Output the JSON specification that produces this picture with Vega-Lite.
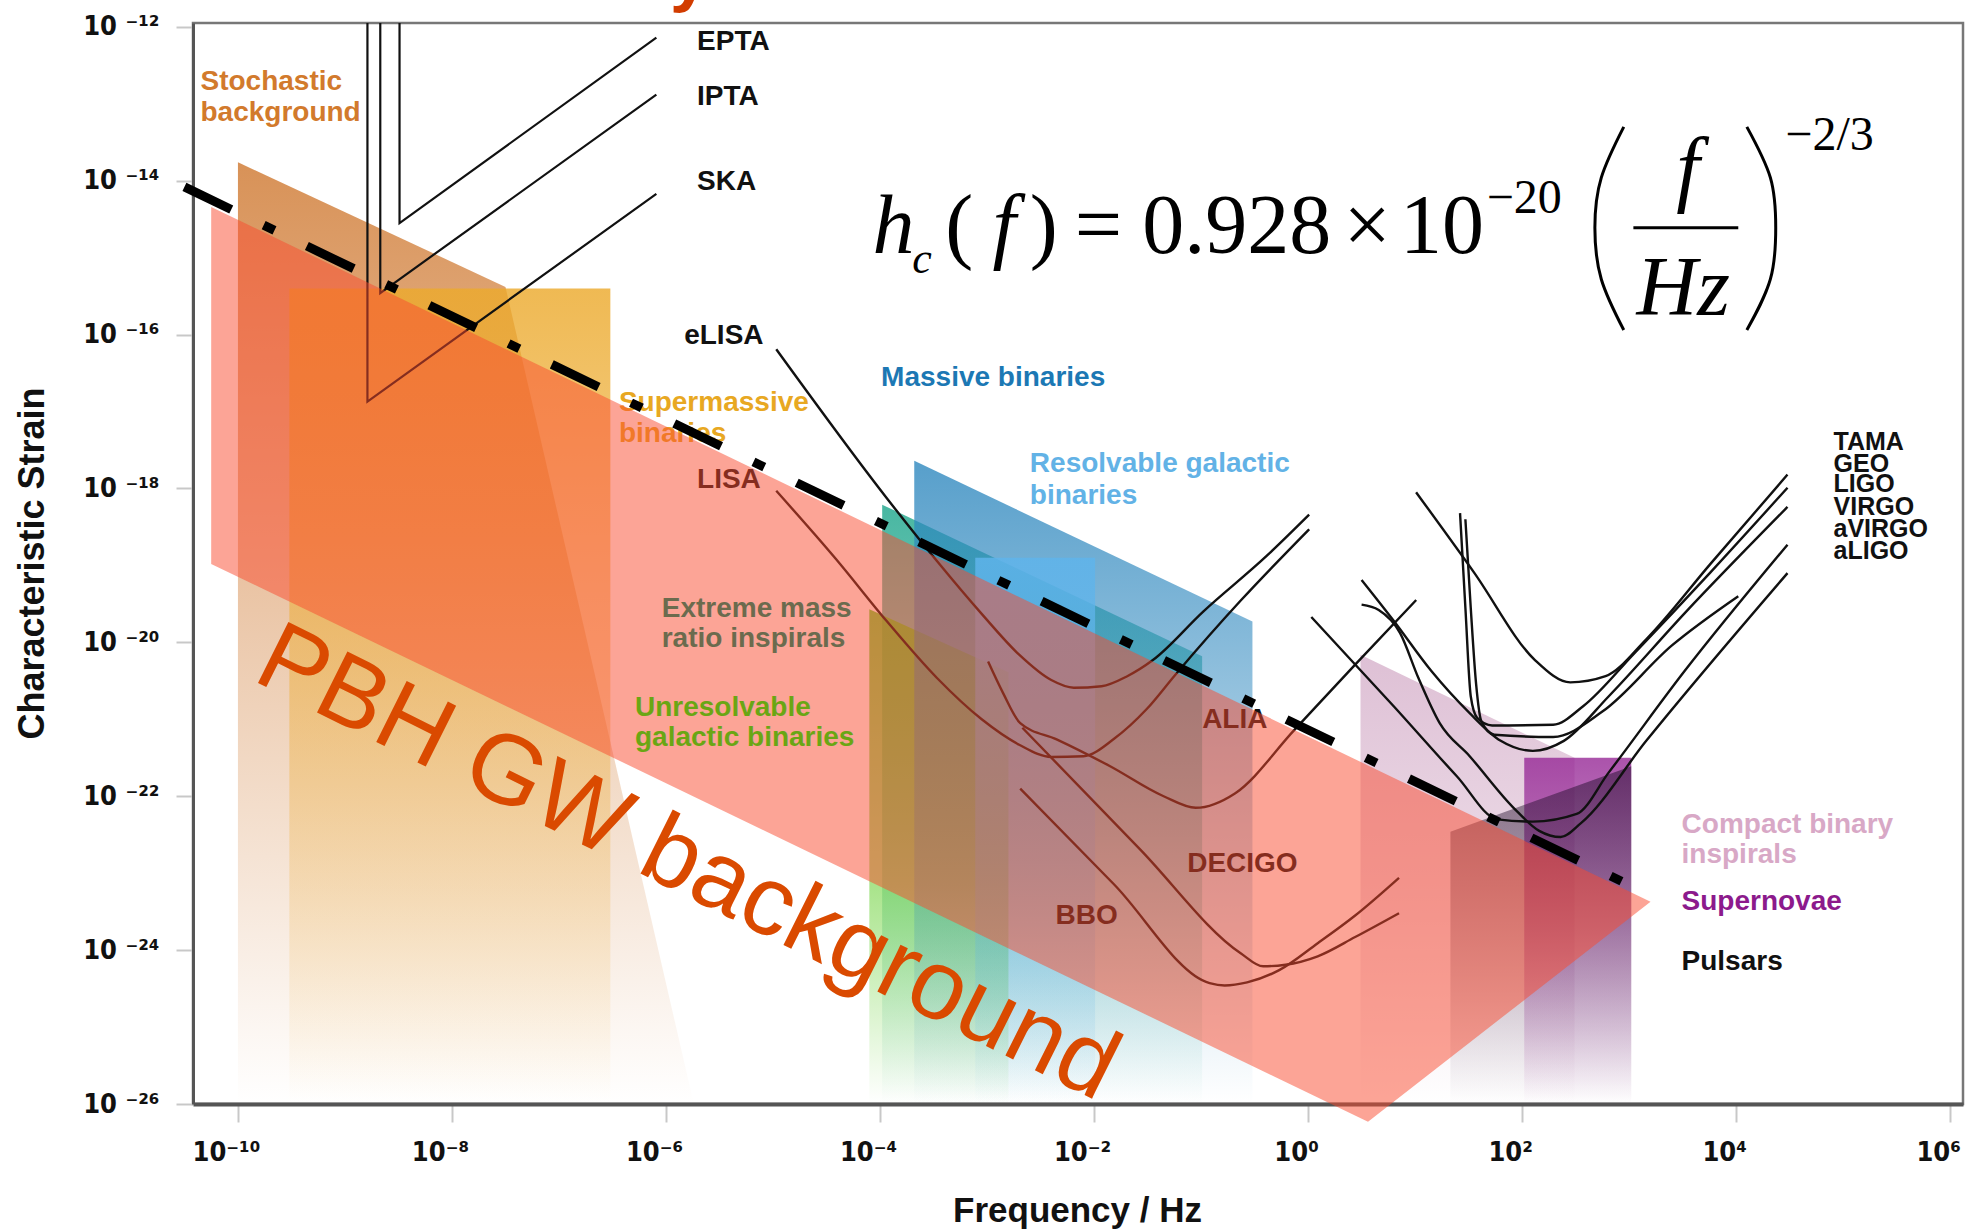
{
"$schema": "https://vega.github.io/schema/vega-lite/v6.json",
"width": 1770,
"height": 1081,
"autosize": {"type": "none"},
"padding": {"left": 193, "top": 23, "right": 23, "bottom": 125},
"background": "white",
"config": {"view": {"stroke": "#777777", "strokeWidth": 2.5}},
"datasets": {
"regions": [
{"region":"Stochastic background","f":1e-10,"h":1.738e-14,"h2":1e-26},
{"region":"Stochastic background","f":3.162e-8,"h":4.169e-16,"h2":1e-26},
{"region":"Stochastic background","f":1.82e-6,"h":1e-26,"h2":1e-26},
{"region":"Supermassive binaries","f":3.02e-10,"h":3.981e-16,"h2":1e-26},
{"region":"Supermassive binaries","f":3.02e-7,"h":3.981e-16,"h2":1e-26},
{"region":"Extreme mass ratio inspirals","f":1.047e-4,"h":6.166e-19,"h2":1e-26},
{"region":"Extreme mass ratio inspirals","f":0.1023,"h":6.607e-21,"h2":1e-26},
{"region":"Unresolvable galactic binaries","f":7.943e-5,"h":2.692e-20,"h2":1e-26},
{"region":"Unresolvable galactic binaries","f":1.585e-3,"h":4.074e-21,"h2":1e-26},
{"region":"Massive binaries","f":2.089e-4,"h":2.291e-18,"h2":1e-26},
{"region":"Massive binaries","f":0.302,"h":1.862e-20,"h2":1e-26},
{"region":"Resolvable galactic binaries","f":7.762e-4,"h":1.259e-19,"h2":1e-26},
{"region":"Resolvable galactic binaries","f":1.023e-2,"h":1.259e-19,"h2":1e-26},
{"region":"Compact binary inspirals","f":3.09,"h":6.918e-21,"h2":1e-26},
{"region":"Compact binary inspirals","f":309,"h":3.162e-22,"h2":1e-26},
{"region":"Supernovae","f":104.7,"h":3.162e-22,"h2":1e-26},
{"region":"Supernovae","f":1047,"h":3.162e-22,"h2":1e-26},
{"region":"Pulsars","f":21.38,"h":3.467e-23,"h2":1e-26},
{"region":"Pulsars","f":1047,"h":2.455e-22,"h2":1e-26},
{"region":"PBH GW background","f":5.623e-11,"h":4.571e-15,"h2":1.047e-19},
{"region":"PBH GW background","f":3.631,"h":2.512e-22,"h2":5.888e-27},
{"region":"PBH GW background","f":1585,"h":4.266e-24,"h2":4.266e-24}
],
"curves": [
{"name":"EPTA","i":0,"f":3.236e-9,"h":1.122e-12},
{"name":"EPTA","i":1,"f":3.236e-9,"h":2.818e-15},
{"name":"EPTA","i":2,"f":8.128e-7,"h":7.244e-13},
{"name":"IPTA","i":0,"f":2.138e-9,"h":1.122e-12},
{"name":"IPTA","i":1,"f":2.138e-9,"h":3.467e-16},
{"name":"IPTA","i":2,"f":8.128e-7,"h":1.318e-13},
{"name":"SKA","i":0,"f":1.622e-9,"h":1.122e-12},
{"name":"SKA","i":1,"f":1.622e-9,"h":1.349e-17},
{"name":"SKA","i":2,"f":8.128e-7,"h":6.761e-15},
{"name":"eLISA","i":0,"f":1.072e-5,"h":6.457e-17},
{"name":"eLISA","i":1,"f":1.148e-4,"h":7.586e-19},
{"name":"eLISA","i":2,"f":3.388e-4,"h":1.148e-19},
{"name":"eLISA","i":3,"f":8.913e-4,"h":2.344e-20},
{"name":"eLISA","i":4,"f":1.995e-3,"h":6.918e-21},
{"name":"eLISA","i":5,"f":3.981e-3,"h":3.236e-21},
{"name":"eLISA","i":6,"f":6.457e-3,"h":2.57e-21},
{"name":"eLISA","i":7,"f":1.175e-2,"h":2.692e-21},
{"name":"eLISA","i":8,"f":2.042e-2,"h":3.631e-21},
{"name":"eLISA","i":9,"f":3.548e-2,"h":5.888e-21},
{"name":"eLISA","i":10,"f":0.1047,"h":2.512e-20},
{"name":"eLISA","i":11,"f":0.4074,"h":1.318e-19},
{"name":"eLISA","i":12,"f":1.023,"h":4.571e-19},
{"name":"LISA","i":0,"f":1.072e-5,"h":9.333e-19},
{"name":"LISA","i":1,"f":3.89e-5,"h":1.202e-19},
{"name":"LISA","i":2,"f":1.148e-4,"h":1.905e-20},
{"name":"LISA","i":3,"f":3.388e-4,"h":3.467e-21},
{"name":"LISA","i":4,"f":8.913e-4,"h":1e-21},
{"name":"LISA","i":5,"f":1.995e-3,"h":4.677e-22},
{"name":"LISA","i":6,"f":3.981e-3,"h":3.236e-22},
{"name":"LISA","i":7,"f":7.943e-3,"h":3.311e-22},
{"name":"LISA","i":8,"f":1.549e-2,"h":5.623e-22},
{"name":"LISA","i":9,"f":3.09e-2,"h":1.349e-21},
{"name":"LISA","i":10,"f":5.754e-2,"h":3.802e-21},
{"name":"LISA","i":11,"f":0.237,"h":3.548e-20},
{"name":"LISA","i":12,"f":1.023,"h":2.951e-19},
{"name":"ALIA","i":0,"f":1.023e-3,"h":5.623e-21},
{"name":"ALIA","i":1,"f":1.413e-3,"h":2.188e-21},
{"name":"ALIA","i":2,"f":2.042e-3,"h":8.913e-22},
{"name":"ALIA","i":3,"f":4.467e-3,"h":5.495e-22},
{"name":"ALIA","i":4,"f":1.413e-2,"h":2.455e-22},
{"name":"ALIA","i":5,"f":4.467e-2,"h":1e-22},
{"name":"ALIA","i":6,"f":8.913e-2,"h":7.079e-23},
{"name":"ALIA","i":7,"f":0.2089,"h":1.096e-22},
{"name":"ALIA","i":8,"f":0.7413,"h":7.244e-22},
{"name":"ALIA","i":9,"f":2.754,"h":5.129e-21},
{"name":"ALIA","i":10,"f":10.23,"h":3.548e-20},
{"name":"DECIGO","i":0,"f":2.138e-3,"h":7.762e-22},
{"name":"DECIGO","i":1,"f":2.692e-2,"h":2.042e-23},
{"name":"DECIGO","i":2,"f":0.2344,"h":9.12e-25},
{"name":"DECIGO","i":3,"f":0.3802,"h":6.166e-25},
{"name":"DECIGO","i":4,"f":0.6166,"h":6.457e-25},
{"name":"DECIGO","i":5,"f":1.23,"h":8.318e-25},
{"name":"DECIGO","i":6,"f":2.754,"h":1.479e-24},
{"name":"DECIGO","i":7,"f":7.079,"h":3.02e-24},
{"name":"BBO","i":0,"f":2.042e-3,"h":1.259e-22},
{"name":"BBO","i":1,"f":1.549e-2,"h":7.079e-24},
{"name":"BBO","i":2,"f":0.1202,"h":3.715e-25},
{"name":"BBO","i":3,"f":0.166,"h":3.467e-25},
{"name":"BBO","i":4,"f":0.2692,"h":3.802e-25},
{"name":"BBO","i":5,"f":0.537,"h":5.495e-25},
{"name":"BBO","i":6,"f":1.23,"h":1.23e-24},
{"name":"BBO","i":7,"f":2.754,"h":2.818e-24},
{"name":"BBO","i":8,"f":7.079,"h":8.71e-24},
{"name":"TAMA","i":0,"f":10.23,"h":8.913e-19},
{"name":"TAMA","i":1,"f":35.48,"h":8.128e-20},
{"name":"TAMA","i":2,"f":131.8,"h":5.888e-21},
{"name":"TAMA","i":3,"f":281.8,"h":3.02e-21},
{"name":"TAMA","i":4,"f":602.6,"h":3.631e-21},
{"name":"TAMA","i":5,"f":1445,"h":1.096e-20},
{"name":"TAMA","i":6,"f":5754,"h":1.047e-19},
{"name":"TAMA","i":7,"f":30200,"h":1.514e-18},
{"name":"GEO","i":0,"f":26.3,"h":4.786e-19},
{"name":"GEO","i":1,"f":29.51,"h":2.818e-20},
{"name":"GEO","i":2,"f":33.11,"h":1.995e-21},
{"name":"GEO","i":3,"f":38.02,"h":1.047e-21},
{"name":"GEO","i":4,"f":52.48,"h":8.318e-22},
{"name":"GEO","i":5,"f":195,"h":8.511e-22},
{"name":"GEO","i":6,"f":371.5,"h":1.479e-21},
{"name":"GEO","i":7,"f":1122,"h":7.244e-21},
{"name":"GEO","i":8,"f":5754,"h":8.128e-20},
{"name":"GEO","i":9,"f":30200,"h":1.023e-18},
{"name":"LIGO","i":0,"f":3.162,"h":6.457e-20},
{"name":"LIGO","i":1,"f":6.31,"h":1.905e-20},
{"name":"LIGO","i":2,"f":14.13,"h":4.266e-21},
{"name":"LIGO","i":3,"f":32.36,"h":1.202e-21},
{"name":"LIGO","i":4,"f":63.1,"h":5.248e-22},
{"name":"LIGO","i":5,"f":125.9,"h":3.89e-22},
{"name":"LIGO","i":6,"f":245.5,"h":5.248e-22},
{"name":"LIGO","i":7,"f":645.7,"h":1.995e-21},
{"name":"LIGO","i":8,"f":3311,"h":2.399e-20},
{"name":"LIGO","i":9,"f":30200,"h":5.754e-19},
{"name":"VIRGO","i":0,"f":1.072,"h":2.138e-20},
{"name":"VIRGO","i":1,"f":6.31,"h":1.479e-21},
{"name":"VIRGO","i":2,"f":24.55,"h":1.82e-22},
{"name":"VIRGO","i":3,"f":58.88,"h":5.012e-23},
{"name":"VIRGO","i":4,"f":125.9,"h":4.677e-23},
{"name":"VIRGO","i":5,"f":323.6,"h":5.888e-23},
{"name":"VIRGO","i":6,"f":645.7,"h":2.042e-22},
{"name":"VIRGO","i":7,"f":3311,"h":4.266e-21},
{"name":"VIRGO","i":8,"f":30200,"h":1.862e-19},
{"name":"aVIRGO","i":0,"f":3.162,"h":3.09e-20},
{"name":"aVIRGO","i":1,"f":4.571,"h":2.63e-20},
{"name":"aVIRGO","i":2,"f":7.244,"h":1.318e-20},
{"name":"aVIRGO","i":3,"f":10.72,"h":3.467e-21},
{"name":"aVIRGO","i":4,"f":16.98,"h":8.913e-22},
{"name":"aVIRGO","i":5,"f":32.36,"h":3.311e-22},
{"name":"aVIRGO","i":6,"f":83.18,"h":7.079e-23},
{"name":"aVIRGO","i":7,"f":144.5,"h":3.548e-23},
{"name":"aVIRGO","i":8,"f":229.1,"h":2.951e-23},
{"name":"aVIRGO","i":9,"f":354.8,"h":4.467e-23},
{"name":"aVIRGO","i":10,"f":1445,"h":5.248e-22},
{"name":"aVIRGO","i":11,"f":30200,"h":7.943e-20},
{"name":"aLIGO","i":0,"f":29.51,"h":3.981e-19},
{"name":"aLIGO","i":1,"f":33.11,"h":2.818e-20},
{"name":"aLIGO","i":2,"f":37.15,"h":2.884e-21},
{"name":"aLIGO","i":3,"f":41.69,"h":9.333e-22},
{"name":"aLIGO","i":4,"f":54.95,"h":6.31e-22},
{"name":"aLIGO","i":5,"f":195,"h":5.888e-22},
{"name":"aLIGO","i":6,"f":562.3,"h":1.259e-21},
{"name":"aLIGO","i":7,"f":2512,"h":9.12e-21},
{"name":"aLIGO","i":8,"f":10470,"h":3.981e-20}
],
"fit": [
{"i":0,"f":3.162e-11,"h":8.318e-15},
{"i":1,"f":955,"h":7.244e-24}
],
"labels": [
{"cat":"pta","text":"EPTA","f":1.95e-6,"h":5.012e-13},
{"cat":"pta","text":"IPTA","f":1.95e-6,"h":9.772e-14},
{"cat":"pta","text":"SKA","f":1.95e-6,"h":7.586e-15},
{"cat":"stochastic","text":"Stochastic","f":4.467e-11,"h":1.514e-13},
{"cat":"stochastic","text":"background","f":4.467e-11,"h":6.026e-14},
{"cat":"supermassive","text":"Supermassive","f":3.631e-7,"h":1.023e-17},
{"cat":"supermassive","text":"binaries","f":3.631e-7,"h":4.074e-18},
{"cat":"space","text":"eLISA","f":1.479e-6,"h":7.586e-17},
{"cat":"massive","text":"Massive binaries","f":1.023e-4,"h":2.138e-17},
{"cat":"resolvable","text":"Resolvable galactic","f":2.512e-3,"h":1.622e-18},
{"cat":"resolvable","text":"binaries","f":2.512e-3,"h":6.31e-19},
{"cat":"space","text":"LISA","f":1.95e-6,"h":1.023e-18},
{"cat":"emri","text":"Extreme mass","f":9.12e-7,"h":2.138e-20},
{"cat":"emri","text":"ratio inspirals","f":9.12e-7,"h":8.71e-21},
{"cat":"unresolvable","text":"Unresolvable","f":5.129e-7,"h":1.096e-21},
{"cat":"unresolvable","text":"galactic binaries","f":5.129e-7,"h":4.467e-22},
{"cat":"space","text":"ALIA","f":0.1023,"h":7.762e-22},
{"cat":"space","text":"DECIGO","f":7.413e-2,"h":1.047e-23},
{"cat":"space","text":"BBO","f":4.365e-3,"h":2.188e-24},
{"cat":"compact","text":"Compact binary","f":3090,"h":3.311e-23},
{"cat":"compact","text":"inspirals","f":3090,"h":1.349e-23},
{"cat":"supernovae","text":"Supernovae","f":3090,"h":3.311e-24},
{"cat":"pulsars","text":"Pulsars","f":3090,"h":5.495e-25}
],
"ground": [
{"text":"TAMA","f":81280,"h":3.162e-18},
{"text":"GEO","f":81280,"h":1.66e-18},
{"text":"LIGO","f":81280,"h":8.913e-19},
{"text":"VIRGO","f":81280,"h":4.571e-19},
{"text":"aVIRGO","f":81280,"h":2.344e-19},
{"text":"aLIGO","f":81280,"h":1.202e-19}
],
"formula": [
{"part":"italic","text":"h","f":8.511e-5,"h":1.148e-15},
{"part":"sub","text":"c","f":1.995e-4,"h":6.31e-16},
{"part":"upright","text":"(","f":4.074e-4,"h":1.148e-15},
{"part":"italic","text":"f","f":1.122e-3,"h":1.148e-15},
{"part":"upright","text":")","f":2.512e-3,"h":1.148e-15},
{"part":"upright","text":"=","f":6.607e-3,"h":1.148e-15},
{"part":"upright","text":"0.928","f":2.818e-2,"h":1.148e-15},
{"part":"upright","text":"×","f":2.138,"h":1.148e-15},
{"part":"upright","text":"10","f":7.244,"h":1.148e-15},
{"part":"sup","text":"−20","f":46.77,"h":3.802e-15},
{"part":"italic","text":"f","f":2754,"h":6.31e-15},
{"part":"italic","text":"Hz","f":1175,"h":1.82e-16},
{"part":"sup","text":"−2/3","f":28840,"h":2.512e-14}
],
"delims": [
{"part":"left","i":0,"f":891.3,"h":5.012e-14},
{"part":"left","i":1,"f":549.5,"h":1.096e-14},
{"part":"left","i":2,"f":478.6,"h":2.455e-15},
{"part":"left","i":3,"f":549.5,"h":5.248e-16},
{"part":"left","i":4,"f":891.3,"h":1.148e-16},
{"part":"right","i":0,"f":12590,"h":5.012e-14},
{"part":"right","i":1,"f":20890,"h":1.096e-14},
{"part":"right","i":2,"f":23440,"h":2.455e-15},
{"part":"right","i":3,"f":20890,"h":5.248e-16},
{"part":"right","i":4,"f":12590,"h":1.148e-16},
{"part":"bar","i":0,"f":1096,"h":2.455e-15},
{"part":"bar","i":1,"f":10470,"h":2.455e-15}
],
"pbh": [{"text":"PBH GW background","f":1.318e-10,"h":3.311e-21}],
"cut": [{"text":"y","f":1.66e-6,"h":2.399e-12}]
},
"encoding": {
"x": {"field": "f", "type": "quantitative",
 "scale": {"type": "log", "domain": [3.802e-11, 1.318e6], "nice": false},
 "axis": {"title": "Frequency / Hz", "values": [1e-10,1e-8,1e-6,1e-4,1e-2,1,100,10000,1000000],
  "labelExpr": "datum.value < 1e-9 ? '10⁻¹⁰' : datum.value < 1e-7 ? '10⁻⁸' : datum.value < 1e-5 ? '10⁻⁶' : datum.value < 1e-3 ? '10⁻⁴' : datum.value < 0.1 ? '10⁻²' : datum.value < 10 ? '10⁰' : datum.value < 1000 ? '10²' : datum.value < 100000 ? '10⁴' : '10⁶'",
  "labelFont": "DejaVu Sans Condensed", "labelFontWeight": "bold", "labelFontSize": 27, "labelColor": "#111111",
  "labelAlign": "center", "labelBaseline": "alphabetic", "labelOffset": -12, "labelPadding": 38,
  "labelFlush": false, "labelOverlap": false, "labelBound": false,
  "tickSize": 18, "tickColor": "#c8c8c8", "tickWidth": 2, "domainColor": "#555555", "domainWidth": 4, "grid": false,
  "titleFont": "Liberation Sans", "titleFontWeight": "bold", "titleFontSize": 35, "titleColor": "#111111",
  "titleX": 884, "titleY": 117, "titleBaseline": "alphabetic", "titleAlign": "center"}},
"y": {"field": "h", "type": "quantitative",
 "scale": {"type": "log", "domain": [1e-26, 1.122e-12], "nice": false},
 "axis": {"title": "Characteristic Strain", "values": [1e-26,1e-24,1e-22,1e-20,1e-18,1e-16,1e-14,1e-12],
  "labelExpr": "datum.value < 1e-25 ? '10 ⁻²⁶' : datum.value < 1e-23 ? '10 ⁻²⁴' : datum.value < 1e-21 ? '10 ⁻²²' : datum.value < 1e-19 ? '10 ⁻²⁰' : datum.value < 1e-17 ? '10 ⁻¹⁸' : datum.value < 1e-15 ? '10 ⁻¹⁶' : datum.value < 1e-13 ? '10 ⁻¹⁴' : '10 ⁻¹²'",
  "labelFont": "DejaVu Sans Condensed", "labelFontWeight": "bold", "labelFontSize": 27, "labelColor": "#111111",
  "labelPadding": 17, "labelFlush": false, "labelOverlap": false, "labelBound": false,
  "tickSize": 17, "tickColor": "#c8c8c8", "tickWidth": 2, "domainColor": "#555555", "domainWidth": 3, "grid": false,
  "titleFont": "Liberation Sans", "titleFontWeight": "bold", "titleFontSize": 36, "titleColor": "#111111",
  "titleX": -150, "titleY": 540, "titleAngle": 270, "titleBaseline": "alphabetic", "titleAlign": "center"}}
},
"layer": [
{"data": {"name": "regions"}, "transform": [{"filter": "datum.region === 'Stochastic background'"}],
 "mark": {"type": "area", "orient": "vertical", "opacity": 1, "color": {"gradient": "linear", "x1": 0, "y1": 0, "x2": 0, "y2": 1, "stops": [{"offset": 0, "color": "rgba(205,115,40,0.78)"}, {"offset": 0.5, "color": "rgba(205,115,40,0.38)"}, {"offset": 1, "color": "rgba(205,115,40,0)"}]}},
 "encoding": {"y2": {"field": "h2"}}},
{"data": {"name": "regions"}, "transform": [{"filter": "datum.region === 'Supermassive binaries'"}],
 "mark": {"type": "area", "orient": "vertical", "opacity": 1, "color": {"gradient": "linear", "x1": 0, "y1": 0, "x2": 0, "y2": 1, "stops": [{"offset": 0, "color": "rgba(236,170,45,0.82)"}, {"offset": 0.5, "color": "rgba(236,170,45,0.42)"}, {"offset": 1, "color": "rgba(236,170,45,0)"}]}},
 "encoding": {"y2": {"field": "h2"}}},
{"data": {"name": "regions"}, "transform": [{"filter": "datum.region === 'Extreme mass ratio inspirals'"}],
 "mark": {"type": "area", "orient": "vertical", "opacity": 1, "color": {"gradient": "linear", "x1": 0, "y1": 0, "x2": 0, "y2": 1, "stops": [{"offset": 0, "color": "rgba(40,170,145,0.85)"}, {"offset": 0.5, "color": "rgba(40,170,145,0.45)"}, {"offset": 1, "color": "rgba(40,170,145,0)"}]}},
 "encoding": {"y2": {"field": "h2"}}},
{"data": {"name": "regions"}, "transform": [{"filter": "datum.region === 'Unresolvable galactic binaries'"}],
 "mark": {"type": "area", "orient": "vertical", "opacity": 1, "color": {"gradient": "linear", "x1": 0, "y1": 0, "x2": 0, "y2": 1, "stops": [{"offset": 0, "color": "rgba(95,205,40,0.85)"}, {"offset": 0.55, "color": "rgba(95,205,40,0.55)"}, {"offset": 1, "color": "rgba(95,205,40,0)"}]}},
 "encoding": {"y2": {"field": "h2"}}},
{"data": {"name": "regions"}, "transform": [{"filter": "datum.region === 'Massive binaries'"}],
 "mark": {"type": "area", "orient": "vertical", "opacity": 1, "color": {"gradient": "linear", "x1": 0, "y1": 0, "x2": 0, "y2": 1, "stops": [{"offset": 0, "color": "rgba(45,135,190,0.8)"}, {"offset": 0.5, "color": "rgba(45,135,190,0.4)"}, {"offset": 1, "color": "rgba(45,135,190,0)"}]}},
 "encoding": {"y2": {"field": "h2"}}},
{"data": {"name": "regions"}, "transform": [{"filter": "datum.region === 'Resolvable galactic binaries'"}],
 "mark": {"type": "area", "orient": "vertical", "opacity": 1, "color": {"gradient": "linear", "x1": 0, "y1": 0, "x2": 0, "y2": 1, "stops": [{"offset": 0, "color": "rgba(95,180,235,0.85)"}, {"offset": 0.5, "color": "rgba(95,180,235,0.45)"}, {"offset": 1, "color": "rgba(95,180,235,0)"}]}},
 "encoding": {"y2": {"field": "h2"}}},
{"data": {"name": "regions"}, "transform": [{"filter": "datum.region === 'Compact binary inspirals'"}],
 "mark": {"type": "area", "orient": "vertical", "opacity": 1, "color": {"gradient": "linear", "x1": 0, "y1": 0, "x2": 0, "y2": 1, "stops": [{"offset": 0, "color": "rgba(200,150,185,0.6)"}, {"offset": 0.5, "color": "rgba(200,150,185,0.35)"}, {"offset": 1, "color": "rgba(200,150,185,0)"}]}},
 "encoding": {"y2": {"field": "h2"}}},
{"data": {"name": "regions"}, "transform": [{"filter": "datum.region === 'Supernovae'"}],
 "mark": {"type": "area", "orient": "vertical", "opacity": 1, "color": {"gradient": "linear", "x1": 0, "y1": 0, "x2": 0, "y2": 1, "stops": [{"offset": 0, "color": "rgba(150,40,150,0.8)"}, {"offset": 0.5, "color": "rgba(150,40,150,0.45)"}, {"offset": 1, "color": "rgba(150,40,150,0)"}]}},
 "encoding": {"y2": {"field": "h2"}}},
{"data": {"name": "regions"}, "transform": [{"filter": "datum.region === 'Pulsars'"}],
 "mark": {"type": "area", "orient": "vertical", "opacity": 1, "color": {"gradient": "linear", "x1": 0, "y1": 0, "x2": 0, "y2": 1, "stops": [{"offset": 0, "color": "rgba(30,10,40,0.5)"}, {"offset": 0.5, "color": "rgba(30,10,40,0.25)"}, {"offset": 1, "color": "rgba(30,10,40,0)"}]}},
 "encoding": {"y2": {"field": "h2"}}},
{"data": {"name": "curves"}, "transform": [{"filter": "indexof(['EPTA','IPTA','SKA'], datum.name) >= 0"}],
 "mark": {"type": "line", "color": "#111111", "strokeWidth": 2.2},
 "encoding": {"detail": {"field": "name"}, "order": {"field": "i"}}},
{"data": {"name": "curves"}, "transform": [{"filter": "indexof(['EPTA','IPTA','SKA'], datum.name) < 0"}],
 "mark": {"type": "line", "color": "#111111", "strokeWidth": 2.4, "interpolate": "monotone"},
 "encoding": {"detail": {"field": "name"}, "order": {"field": "i"}}},
{"data": {"name": "labels"}, "transform": [{"filter": "datum.cat === 'supermassive' || datum.cat === 'space'"}],
 "mark": {"type": "text", "align": "left", "baseline": "alphabetic", "font": "Liberation Sans", "fontWeight": "bold", "fontSize": 28},
 "encoding": {"text": {"field": "text"},
  "color": {"field": "cat", "type": "nominal", "legend": null, "scale": {"domain": ["pta","space","pulsars","stochastic","supermassive","massive","resolvable","emri","unresolvable","compact","supernovae"], "range": ["#111111","#111111","#111111","#D27A2C","#E8A822","#1C78B4","#62B2E6","#6B6B4E","#6AA614","#D8A8C6","#8C1A8C"]}}}},
{"data": {"name": "regions"}, "transform": [{"filter": "datum.region === 'PBH GW background'"}],
 "mark": {"type": "area", "orient": "vertical", "color": "#F9492D", "opacity": 0.5},
 "encoding": {"y2": {"field": "h2"}}},
{"data": {"name": "labels"}, "transform": [{"filter": "datum.cat !== 'supermassive' && datum.cat !== 'space'"}],
 "mark": {"type": "text", "align": "left", "baseline": "alphabetic", "font": "Liberation Sans", "fontWeight": "bold", "fontSize": 28},
 "encoding": {"text": {"field": "text"},
  "color": {"field": "cat", "type": "nominal", "legend": null, "scale": {"domain": ["pta","space","pulsars","stochastic","supermassive","massive","resolvable","emri","unresolvable","compact","supernovae"], "range": ["#111111","#111111","#111111","#D27A2C","#E8A822","#1C78B4","#62B2E6","#6B6B4E","#6AA614","#D8A8C6","#8C1A8C"]}}}},
{"data": {"name": "ground"},
 "mark": {"type": "text", "align": "left", "baseline": "alphabetic", "font": "Liberation Sans Narrow, Liberation Sans", "fontWeight": "bold", "fontSize": 25, "color": "#111111"},
 "encoding": {"text": {"field": "text"}}},
{"data": {"name": "pbh"},
 "mark": {"type": "text", "align": "left", "baseline": "alphabetic", "font": "Liberation Sans", "fontSize": 99, "angle": 26.5, "color": "#DA4A00"},
 "encoding": {"text": {"field": "text"}}},
{"data": {"name": "formula"}, "transform": [{"filter": "datum.part === 'italic'"}],
 "mark": {"type": "text", "align": "left", "baseline": "alphabetic", "font": "Liberation Serif", "fontStyle": "italic", "fontSize": 84, "color": "#000000"},
 "encoding": {"text": {"field": "text"}}},
{"data": {"name": "formula"}, "transform": [{"filter": "datum.part === 'upright'"}],
 "mark": {"type": "text", "align": "left", "baseline": "alphabetic", "font": "Liberation Serif", "fontSize": 84, "color": "#000000"},
 "encoding": {"text": {"field": "text"}}},
{"data": {"name": "formula"}, "transform": [{"filter": "datum.part === 'sub'"}],
 "mark": {"type": "text", "align": "left", "baseline": "alphabetic", "font": "Liberation Serif", "fontStyle": "italic", "fontSize": 44, "color": "#000000"},
 "encoding": {"text": {"field": "text"}}},
{"data": {"name": "formula"}, "transform": [{"filter": "datum.part === 'sup'"}],
 "mark": {"type": "text", "align": "left", "baseline": "alphabetic", "font": "Liberation Serif", "fontSize": 48, "color": "#000000"},
 "encoding": {"text": {"field": "text"}}},
{"data": {"name": "delims"},
 "mark": {"type": "line", "color": "#000000", "strokeWidth": 3, "interpolate": "natural"},
 "encoding": {"detail": {"field": "part"}, "order": {"field": "i"}}},
{"data": {"name": "fit"},
 "mark": {"type": "line", "color": "#000000", "strokeWidth": 9, "strokeDash": [52, 36, 12, 36]},
 "encoding": {"order": {"field": "i"}}},
{"data": {"name": "cut"},
 "mark": {"type": "text", "align": "center", "baseline": "alphabetic", "font": "Liberation Sans", "fontWeight": "bold", "fontSize": 70, "color": "#D23C00"},
 "encoding": {"text": {"field": "text"}}}
]
}
